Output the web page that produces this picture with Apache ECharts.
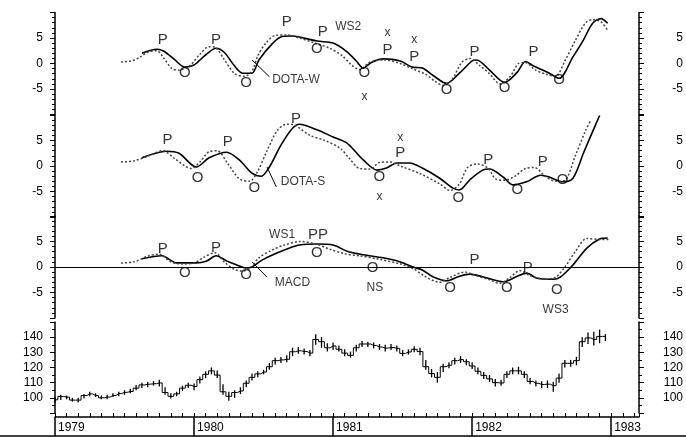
<!DOCTYPE html>
<html><head><meta charset="utf-8">
<script src="https://cdn.jsdelivr.net/npm/echarts@6/dist/echarts.min.js"></script>
<style>html,body{margin:0;padding:0;background:#fff}#c{width:686px;height:437px}</style>
</head><body><div id="c"></div>
<script>
// x positions are months since January 1979
const yearLabels = ['1979', '1980', '1981', '1982', '1983'];

// Panel 1: DOTA-W
const wSolidX = [7.5, 8.8, 9.4, 10.3, 11.2, 12.0, 12.9, 13.9, 14.6, 15.5, 16.2, 17.0, 17.6, 18.8, 19.6, 20.4, 21.1, 22.6, 24.0, 25.2, 26.0, 26.6, 27.3, 28.3, 29.8, 30.8, 31.7, 32.6, 33.8, 34.9, 36.0, 36.4, 37.5, 38.8, 39.9, 40.6, 41.3, 42.5, 43.5, 44.7, 45.6, 46.4, 47.1, 47.7];
const wSolidY = [2.0, 2.8, 2.4, 0.8, -0.7, -0.3, 1.5, 3.0, 2.2, -0.5, -1.9, -1.9, 0.7, 4.0, 5.3, 5.4, 5.2, 4.4, 4.0, 2.3, 0.5, -0.9, 0.2, 0.9, 0.5, -0.7, -0.9, -2.3, -3.9, -1.9, 0.5, 0.7, -1.3, -3.7, -1.7, 0.4, -0.5, -1.7, -2.9, 1.3, 4.6, 7.9, 8.8, 7.9];
const wDotX = [5.7, 6.6, 7.3, 8.1, 8.8, 9.4, 10.1, 10.7, 11.6, 12.5, 13.3, 13.8, 14.6, 15.5, 16.4, 17.0, 17.5, 18.2, 19.0, 20.0, 21.1, 22.4, 23.7, 24.8, 25.6, 26.3, 27.2, 28.5, 29.8, 30.8, 31.9, 32.8, 33.5, 34.3, 35.1, 35.8, 36.7, 37.5, 38.4, 39.3, 40.0, 40.6, 41.4, 42.5, 43.2, 44.0, 44.9, 45.8, 46.4, 47.1, 47.7];
const wDotY = [0.3, 0.5, 1.2, 2.3, 2.5, 1.0, -1.0, -1.3, -0.5, 1.8, 3.3, 3.2, 0.8, -2.0, -2.5, -1.5, 1.5, 4.0, 5.5, 5.6, 5.0, 4.0, 3.0, 1.5, -0.3, -1.2, 0.3, 0.7, 0.0, -1.0, -2.0, -3.5, -4.3, -3.0, 0.2, 1.0, -0.5, -2.0, -4.0, -2.5, 0.0, 0.2, -1.2, -2.2, -2.5, 0.5, 4.5, 8.0, 8.6, 8.2, 6.5];

// Panel 2: DOTA-S
const sSolidX = [7.5, 9.6, 10.7, 12.2, 13.3, 14.8, 15.9, 17.0, 17.8, 18.5, 19.5, 20.5, 21.1, 22.6, 24.0, 25.2, 26.6, 27.8, 28.6, 29.5, 30.6, 31.7, 33.2, 34.3, 34.9, 35.8, 36.9, 37.5, 38.7, 39.5, 40.7, 41.9, 42.7, 43.8, 44.7, 45.6, 46.2, 47.0];
const sSolidY = [1.6, 2.9, 2.5, -0.2, 1.6, 2.7, 1.2, -1.4, -2.0, -0.2, 4.1, 7.4, 8.2, 7.1, 5.7, 4.5, 1.2, -0.8, -0.4, 0.6, 0.6, -0.4, -2.4, -4.3, -4.7, -2.7, -0.8, -0.6, -2.2, -3.7, -3.1, -1.8, -2.2, -3.1, -2.4, 2.5, 5.7, 9.9];
const sDotX = [5.7, 6.8, 8.1, 9.3, 10.3, 11.2, 11.8, 12.5, 13.3, 14.0, 14.9, 15.9, 16.8, 17.5, 18.3, 19.2, 20.0, 20.7, 22.0, 23.3, 24.6, 25.4, 26.3, 27.2, 28.0, 28.9, 29.8, 31.5, 33.2, 34.1, 34.9, 35.6, 36.5, 37.4, 38.0, 38.8, 39.7, 40.6, 41.4, 42.3, 43.2, 44.0, 44.9, 45.8, 46.2];
const sDotY = [0.8, 1.0, 2.0, 3.0, 1.5, 0.0, -0.5, 0.8, 2.8, 3.0, 0.5, -2.5, -3.0, -1.0, 3.0, 7.0, 8.2, 8.0, 6.0, 5.0, 3.5, 1.5, -0.5, -0.6, 0.7, 0.8, 0.0, -1.5, -3.5, -4.8, -3.5, -0.3, 0.4, -0.5, -2.5, -2.8, -2.0, -0.5, -0.3, -2.0, -3.0, -2.8, 2.0, 7.0, 8.8];

// Panel 3: MACD
const mSolidX = [7.5, 9.2, 10.5, 11.0, 12.2, 13.1, 13.9, 14.8, 15.7, 16.5, 17.0, 17.9, 19.1, 20.2, 21.1, 22.6, 24.0, 25.2, 26.6, 28.3, 29.8, 30.9, 31.7, 32.6, 33.8, 34.9, 35.8, 36.9, 38.7, 39.9, 40.7, 41.6, 43.0, 43.6, 44.7, 45.9, 47.0, 47.7];
const mSolidY = [1.6, 2.2, 0.8, 0.8, 0.8, 1.2, 2.2, 1.2, 0.4, -0.2, 0.0, 1.4, 2.7, 3.7, 4.3, 4.5, 4.3, 3.1, 2.4, 1.8, 1.0, 0.0, -0.6, -1.9, -2.7, -1.8, -1.4, -1.9, -2.9, -1.8, -1.2, -2.2, -2.4, -2.0, 0.4, 3.7, 5.5, 5.7];
const mDotX = [5.7, 6.8, 8.1, 9.0, 10.0, 10.9, 12.0, 12.9, 13.8, 14.6, 15.5, 16.2, 16.8, 17.6, 18.7, 19.8, 21.1, 22.4, 23.7, 25.0, 26.3, 28.0, 29.8, 30.9, 31.9, 33.2, 34.1, 35.4, 36.2, 37.5, 38.4, 39.3, 40.1, 41.0, 42.3, 43.2, 44.0, 44.9, 45.9, 47.0, 47.9];
const mDotY = [0.8, 1.0, 2.2, 2.5, 1.0, 0.6, 0.8, 2.0, 2.8, 1.0, -0.5, -0.8, -0.3, 1.8, 3.3, 4.3, 5.0, 4.6, 3.5, 2.6, 2.2, 1.5, 0.6, -0.3, -1.8, -3.0, -2.0, -1.0, -1.6, -2.5, -3.2, -2.0, -0.7, -1.7, -2.4, -2.0, 0.0, 3.0, 5.6, 5.4, 5.4];

// Panel 4: price bars, half-monthly
const priceClose = [98.7, 100.9, 100.5, 98.5, 98.5, 101.5, 102.6, 101.5, 100, 100.5,
  101.5, 102.8, 103.6, 104.2, 106.4, 108.5, 109, 109.3, 109.8, 103.5,
  101, 102.6, 106.4, 108.3, 107.5, 112, 115.5, 117.8, 115, 104,
  101, 103.5, 104.5, 109.6, 113.5, 115.8, 117, 120.5, 124.5, 125,
  125.4, 130.4, 131, 130.6, 129.5, 138.5, 137, 133, 134.2, 132,
  129.5, 128, 133, 135.5, 135.5, 134.5, 133.5, 132.8, 133.2, 132.6,
  129.3, 130.2, 132, 130.5, 120.5, 116, 113.5, 120.5, 121.5, 124.5,
  125.2, 123.8, 121, 117.5, 114.8, 112.5, 110, 109.8, 115.5, 117.8,
  117.8, 115.5, 110.8, 109.6, 108.8, 109, 108, 113, 122.8, 122.8,
  124.5, 137, 139.5, 138.5, 140.5, 140.5];
const priceHigh = [100.5, 102, 101.5, 100, 100, 102.5, 104, 103, 101.5, 102,
  103, 104, 105, 106, 108.5, 110, 110.5, 111, 112, 107,
  103, 104, 108, 110, 109.5, 114, 117.5, 120, 118, 109,
  104, 105, 107, 111.5, 116, 117.5, 118.5, 123, 126.5, 127,
  128, 133, 133.5, 132.5, 131.5, 142, 140, 136, 136.5, 134.5,
  132, 130.5, 135, 137.5, 137, 136.5, 135.5, 135, 135.5, 134.5,
  131.5, 132, 134, 133, 125, 119, 117, 122.5, 123.5, 126.5,
  127.5, 125.5, 123.5, 120, 117, 115, 112.5, 112, 117.5, 120,
  120.5, 117.5, 113, 111.5, 111, 111.5, 110.5, 116, 125, 125,
  127, 140, 143, 143.5, 145, 142];
const priceLow = [96.5, 98.5, 99, 97.5, 97, 99.5, 101, 100.5, 99, 99,
  100.5, 101, 102, 103, 105, 106.5, 107, 108, 107.5, 102,
  99.5, 101, 104.5, 106.5, 105, 109.5, 113, 115.5, 113, 102,
  98, 100, 102.5, 107, 111.5, 113.5, 115.5, 118.5, 122, 123,
  123.5, 127.5, 129, 128.5, 127.5, 135, 133, 130.5, 131.5, 130.5,
  127.5, 126.5, 130.5, 133.5, 133.5, 132.5, 131.5, 130.5, 131.5, 130.5,
  127.5, 128.5, 130, 128, 118.5, 113.5, 110, 117, 119.5, 122,
  123, 121.5, 119, 115.5, 112.5, 110.5, 107.5, 108, 113, 115.5,
  115.5, 113, 109, 107.5, 106.5, 106.5, 104, 110, 120, 120.5,
  121.5, 133.5, 135.5, 134.5, 136, 137.5];

// Annotations
const notes1Text = ['P', 'O', 'P', 'O', 'P', 'O', 'P', 'WS2', 'x', 'P', 'x', 'P', 'O', 'x', 'DOTA-W', 'O', 'P', 'O', 'P', 'O'];
const notes1X = [9.3, 11.2, 13.9, 16.5, 20.0, 22.6, 23.1, 25.3, 28.7, 28.7, 31.0, 31.0, 26.7, 26.7, 20.8, 33.8, 36.2, 38.8, 41.3, 43.5];
const notes1Y = [4.6, -1.9, 4.6, -3.8, 8.1, 2.8, 6.2, 7.2, 6.0, 2.6, 4.6, 1.3, -1.9, -6.6, -3.2, -5.2, 2.3, -4.8, 2.3, -3.2];
const notes2Text = ['P', 'O', 'P', 'O', 'P', 'x', 'P', 'O', 'x', 'DOTA-S', 'O', 'P', 'O', 'P', 'O'];
const notes2X = [9.7, 12.3, 14.9, 17.2, 20.8, 29.8, 29.8, 28.0, 28.0, 21.4, 34.8, 37.4, 39.9, 42.1, 43.8];
const notes2Y = [5.1, -2.4, 4.7, -4.3, 9.2, 5.5, 2.5, -2.2, -6.1, -3.1, -6.3, 1.2, -4.7, 0.8, -2.7];
const notes3Text = ['P', 'O', 'P', 'O', 'WS1', 'PP', 'O', 'MACD', 'O', 'NS', 'O', 'P', 'O', 'P', 'O', 'WS3'];
const notes3X = [9.3, 11.2, 13.9, 16.5, 19.6, 22.7, 22.6, 20.5, 27.4, 27.6, 34.1, 36.2, 39.0, 40.8, 43.3, 43.2];
const notes3Y = [3.5, -1.2, 3.7, -1.6, 6.3, 6.3, 2.7, -3.1, -0.2, -4.1, -4.1, 1.4, -4.1, -0.2, -4.5, -8.4];
const leaders1 = [[17.0, 0.7, 18.5, -2.6]];
const leaders2 = [[18.3, -0.2, 19.1, -4.1]];
const leaders3 = [[17.0, 1.0, 18.3, -2.0]];

// ---------- chart ----------
const FONT = 'Liberation Sans, Arial, sans-serif';
const X_MAX = 50.4;
const grids = [
  {left: 55, right: 47, top: 12.5, height: 102},
  {left: 55, right: 47, top: 115, height: 102},
  {left: 55, right: 47, top: 216, height: 102},
  {left: 55, right: 47, top: 322, height: 91}
].map(g => Object.assign(g, {outerBoundsMode: 'none', containLabel: false}));

function zip(xs, ys) { return xs.map((x, i) => [x, ys[i]]); }

function yAx(gi, pos, min, max, interval, minorSplit, hideEnds) {
  return {
    type: 'value', gridIndex: gi, position: pos, min, max, interval,
    axisLine: {show: true, onZero: false, lineStyle: {color: '#000', width: 1.5}},
    axisTick: {show: true, length: 5, lineStyle: {color: '#000', width: 1}},
    minorTick: {show: minorSplit > 0, splitNumber: minorSplit || 1, length: 3, lineStyle: {color: '#000', width: 1}},
    splitLine: {show: false}, minorSplitLine: {show: false},
    axisLabel: {
      show: true, color: '#000', fontSize: 12, fontFamily: FONT,
      margin: pos === 'left' ? 12 : 44, align: 'right',
      formatter: v => (hideEnds && (v === min || v === max)) ? '' : String(v)
    }
  };
}

const yAxes = [];
for (let g = 0; g < 3; g++) {
  yAxes.push(yAx(g, 'left', -10, 10, 5, 5, true));
  yAxes.push(yAx(g, 'right', -10, 10, 5, 5, true));
}
yAxes.push(yAx(3, 'left', 90, 150, 10, 2, true));
yAxes.push(yAx(3, 'right', 90, 150, 10, 2, true));

const xAxes = [0, 1, 2].map(g => ({type: 'value', gridIndex: g, min: 0, max: X_MAX, show: false}));
xAxes.push({
  type: 'value', gridIndex: 3, min: 0, max: X_MAX, interval: 1, position: 'bottom', offset: 4,
  axisLine: {show: true, onZero: false, lineStyle: {color: '#000', width: 1.5}},
  axisTick: {show: true, inside: true, length: 4, lineStyle: {color: '#000', width: 1}},
  axisLabel: {show: false}, splitLine: {show: false}
});
xAxes.push({
  type: 'value', gridIndex: 3, min: 0, max: X_MAX, interval: 12, position: 'bottom', offset: 4,
  axisLine: {show: false, onZero: false},
  axisTick: {show: true, inside: false, length: 19, lineStyle: {color: '#000', width: 1.5}},
  axisLabel: {
    show: true, color: '#000', fontSize: 12, fontFamily: FONT, align: 'left', margin: 5,
    padding: [0, 0, 0, 3], showMaxLabel: false,
    formatter: v => (Math.abs(v % 12) < 1e-6 ? (yearLabels[Math.round(v / 12)] || '') : '')
  },
  splitLine: {show: false}
});

function solid(xs, ys, xi, yi) {
  return {type: 'line', xAxisIndex: xi, yAxisIndex: yi, data: zip(xs, ys), smooth: 0.3,
    showSymbol: false, symbol: 'none', silent: true,
    lineStyle: {color: '#000', width: 1.6}};
}
function dotted(xs, ys, xi, yi) {
  return {type: 'line', xAxisIndex: xi, yAxisIndex: yi, data: zip(xs, ys), smooth: 0.3,
    showSymbol: false, symbol: 'none', silent: true,
    lineStyle: {color: '#444', width: 1.5, type: [2, 2]}};
}
function sizeFor(t) {
  if (t === 'P' || t === 'O' || t === 'PP') return 15;
  if (t === 'x') return 12;
  return 12;
}
function notes(texts, xs, ys, xi, yi) {
  return {type: 'scatter', xAxisIndex: xi, yAxisIndex: yi, silent: true, symbolSize: 1,
    itemStyle: {color: 'rgba(0,0,0,0)'}, z: 5,
    label: {show: true, position: 'inside', formatter: '{b}', color: '#000', fontFamily: FONT},
    data: texts.map((t, i) => ({name: t, value: [xs[i], ys[i]], label: {fontSize: sizeFor(t)}}))};
}
function leaders(segs, xi, yi) {
  return {type: 'lines', coordinateSystem: 'cartesian2d', xAxisIndex: xi, yAxisIndex: yi, silent: true,
    lineStyle: {color: '#000', width: 1, opacity: 1},
    data: segs.map(s => ({coords: [[s[0], s[1]], [s[2], s[3]]]}))};
}

const priceX = priceClose.map((_, i) => i * 0.5);
const series = [
  solid(wSolidX, wSolidY, 0, 0), dotted(wDotX, wDotY, 0, 0),
  notes(notes1Text, notes1X, notes1Y, 0, 0), leaders(leaders1, 0, 0),
  solid(sSolidX, sSolidY, 1, 2), dotted(sDotX, sDotY, 1, 2),
  notes(notes2Text, notes2X, notes2Y, 1, 2), leaders(leaders2, 1, 2),
  Object.assign(solid(mSolidX, mSolidY, 2, 4), {
    markLine: {silent: true, symbol: 'none', label: {show: false},
      lineStyle: {color: '#000', width: 1.2, type: 'solid'}, data: [{yAxis: 0}]}
  }),
  dotted(mDotX, mDotY, 2, 4),
  notes(notes3Text, notes3X, notes3Y, 2, 4), leaders(leaders3, 2, 4),
  {
    type: 'custom', xAxisIndex: 3, yAxisIndex: 6, silent: true,
    data: priceX.map((x, i) => [x, priceHigh[i], priceLow[i]]),
    encode: {x: 0, y: [1, 2]},
    renderItem: (params, api) => {
      const hi = api.coord([api.value(0), api.value(1)]);
      const lo = api.coord([api.value(0), api.value(2)]);
      return {type: 'line', shape: {x1: hi[0], y1: hi[1], x2: lo[0], y2: lo[1]},
        style: {stroke: '#000', lineWidth: 1.3}};
    }
  },
  {type: 'line', xAxisIndex: 3, yAxisIndex: 6, step: 'middle', silent: true,
    data: zip(priceX, priceClose), showSymbol: false, symbol: 'none',
    lineStyle: {color: '#000', width: 1}}
];

const chart = echarts.init(document.getElementById('c'), null, {renderer: 'canvas'});
chart.setOption({
  animation: false,
  backgroundColor: '#fff',
  grid: grids,
  xAxis: xAxes,
  yAxis: yAxes,
  series: series,
  graphic: [{type: 'line', silent: true,
    shape: {x1: 0, y1: 436, x2: 686, y2: 436},
    style: {stroke: '#000', lineWidth: 1.5}}]
});
</script>
</body></html>
